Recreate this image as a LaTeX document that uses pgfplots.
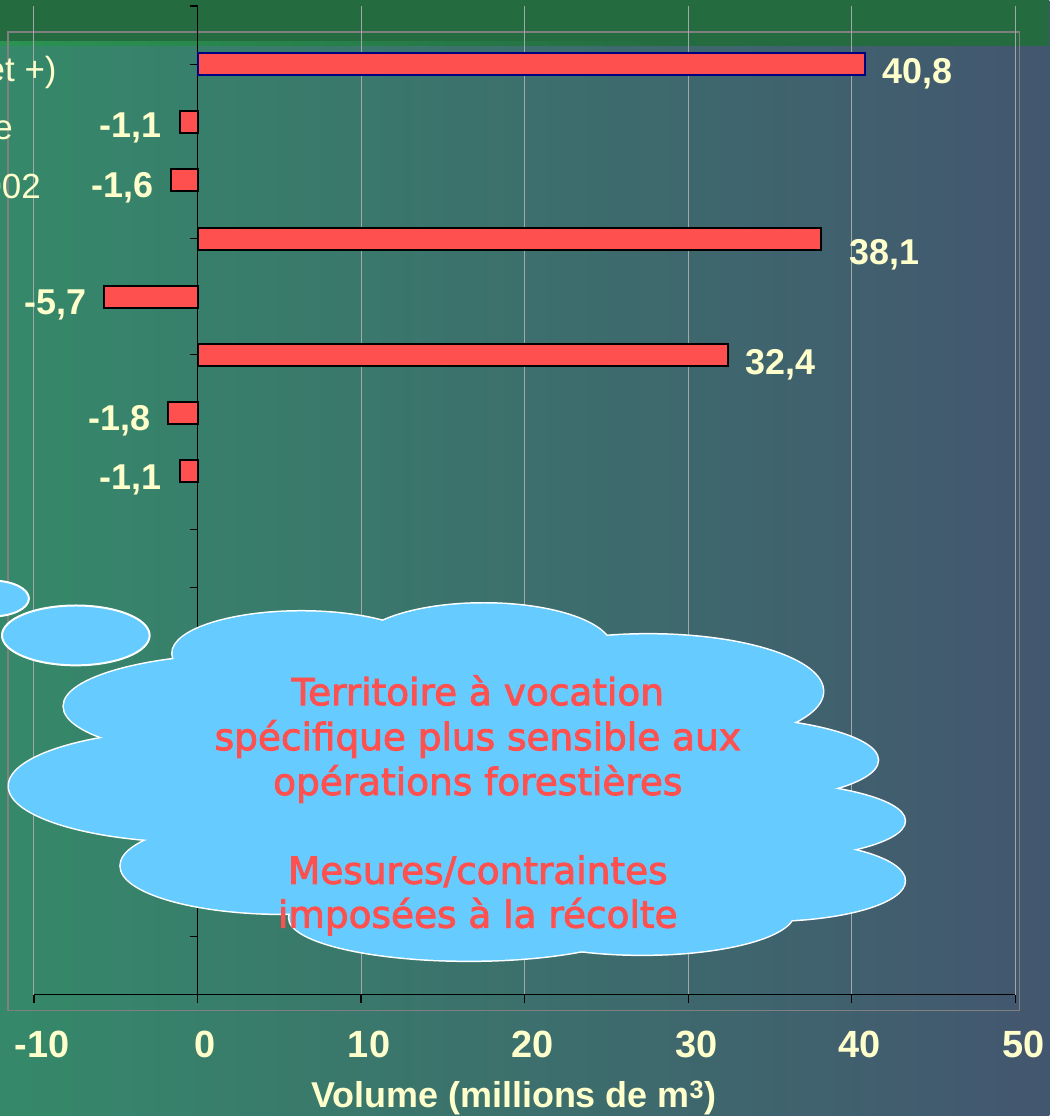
\documentclass[border=0pt]{standalone}
\usepackage{pgfplots}
\usepackage{pgfplotstable}
\pgfplotsset{compat=1.18}
\usepackage{fontspec}
\setmainfont{Liberation Sans}
\newfontfamily\cloudfont[FakeBold=2.5]{DejaVu Sans}

\definecolor{bgleft}{HTML}{35896A}
\definecolor{bgright}{HTML}{43566F}
\definecolor{bandgreen}{HTML}{246B40}
\definecolor{bandline}{HTML}{2A9352}
\definecolor{labelyellow}{HTML}{FFFFCC}
\definecolor{barred}{HTML}{FF5050}
\definecolor{navyborder}{HTML}{000080}
\definecolor{cloudblue}{HTML}{66CCFF}
\definecolor{cloudtext}{HTML}{FF5050}
\definecolor{gridgray}{HTML}{A0A8A8}
\definecolor{framegray}{HTML}{808080}

% volume changes (millions of m3); pos = category slot from the bottom,
% dx/dy = small nudges of the value labels
\pgfplotstableread{
pos vol  dx dy
16  40.8 0  -10
}\firstbar
\pgfplotstableread{
pos vol  dx dy
15  -1.1 0  -6
14  -1.6 0  -7
13  38.1 11 -16
12  -5.7 0  -8
11  32.4 0  -10
10  -1.8 0  -8
9   -1.1 0  -9
}\otherbars

\begin{document}
\begin{tikzpicture}
% slide background
\shade[left color=bgleft, right color=bgright] (0pt,0pt) rectangle (1052pt,-1118pt);
\fill[bandgreen] (0pt,0pt) rectangle (1052pt,-43pt);
\shade[left color=bandline, right color=bandgreen] (0pt,-42pt) rectangle (700pt,-46pt);
\fill[bandgreen] (700pt,-42pt) rectangle (1052pt,-46pt);
% plot area frame
\draw[framegray, line width=1.5pt] (8pt,-32pt) rectangle (1022pt,-1013pt);

\begin{axis}[
  at={(34pt,-997pt)}, anchor=south west,
  scale only axis, width=984pt, height=991pt,
  xmin=-10, xmax=50, ymin=0, ymax=17,
  xbar, bar width=22pt,
  axis x line=bottom, axis y line=middle,
  hide obscured x ticks=false, hide obscured y ticks=false,
  axis line style={black, line width=1.3pt, -},
  xtick={-10,0,...,50}, ytick={0,...,17}, yticklabels={},
  tick align=outside, major tick length=8pt,
  tick style={black, line width=1.2pt},
  xmajorgrids, grid style={gridgray, line width=1pt},
  xticklabel style={font=\fontsize{38pt}{40pt}\selectfont\bfseries, text=labelyellow,
    xshift=8pt, yshift=-25pt},
  /pgf/number format/assume math mode=true,
  xlabel={Volume (millions de m\textsuperscript{3})},
  xlabel style={font=\fontsize{36pt}{40pt}\selectfont\bfseries, text=labelyellow,
    at={(axis description cs:0.5,0)}, anchor=base, xshift=-11pt, yshift=-113pt},
  point meta=x,
  nodes near coords={\pgfmathprintnumber[fixed,fixed zerofill,precision=1,use comma,assume math mode=true]{\pgfplotspointmeta}},
  nodes near coords align={horizontal},
  every node near coord/.append style={font=\fontsize{36pt}{40pt}\selectfont\bfseries,
    text=labelyellow, inner xsep=17pt, inner ysep=0pt},
  clip=false,
]
% first bar, outlined in navy
\addplot[xbar, bar shift=0pt, fill=barred, draw=navyborder, line width=2pt,
  visualization depends on={\thisrow{dx} \as \labdx},
  visualization depends on={\thisrow{dy} \as \labdy},
  every node near coord/.append style={xshift=\labdx pt, yshift=\labdy pt}]
  table[x=vol, y=pos] {\firstbar};
% remaining bars
\addplot[xbar, bar shift=0pt, fill=barred, draw=black, line width=2pt,
  visualization depends on={\thisrow{dx} \as \labdx},
  visualization depends on={\thisrow{dy} \as \labdy},
  every node near coord/.append style={xshift=\labdx pt, yshift=\labdy pt}]
  table[x=vol, y=pos] {\otherbars};
% category names, running off the left edge of the slide
\begin{scope}[every node/.style={overlay, anchor=base east, inner sep=0pt,
    font=\fontsize{35pt}{40pt}\selectfont, text=labelyellow}]
  \node at (axis cs:-8.6,15.696) {Possibilité forestière (7 m³/ha et +)};
  \node at (axis cs:-11.28,14.70) {Aire protégée};
  \node at (axis cs:-9.57,13.689) {Ajustement 2002};
\end{scope}
\end{axis}

% thought-cloud callout
\begin{scope}[x=1pt, y=-1pt]
  \draw[overlay, white, line width=2pt, fill=cloudblue] (-8,600) ellipse [x radius=37, y radius=18];
  \draw[white, line width=2pt, fill=cloudblue] (76,637) ellipse [x radius=74, y radius=30];
  \def\bumps{302/655/129/42, 485/650/128/45, 650/693/175/57, 700/762/180/44,
    737/823/170/40, 768/883/139/40, 644/915/152/42, 470/920/180/43,
    285/868/164/48, 200/788/191/56, 254/708/190/52}
  \foreach \cx/\cy/\rx/\ry in \bumps{
    \draw[white, line width=3pt] (\cx,\cy) ellipse [x radius=\rx, y radius=\ry];
  }
  \foreach \cx/\cy/\rx/\ry in \bumps{
    \fill[cloudblue] (\cx,\cy) ellipse [x radius=\rx, y radius=\ry];
  }
  \fill[cloudblue] (480,790) ellipse [x radius=330, y radius=140];
  \begin{scope}[every node/.style={anchor=base, text=cloudtext, inner sep=0pt,
      font=\cloudfont\fontsize{37.5pt}{40pt}\selectfont}]
    \node at (479,707) {Territoire à vocation};
    \node at (479,752) {spécifique plus sensible aux};
    \node at (479,797) {opérations forestières};
    \node at (479,886) {Mesures/contraintes};
    \node at (479,930) {imposées à la récolte};
  \end{scope}
\end{scope}
\end{tikzpicture}
\end{document}
